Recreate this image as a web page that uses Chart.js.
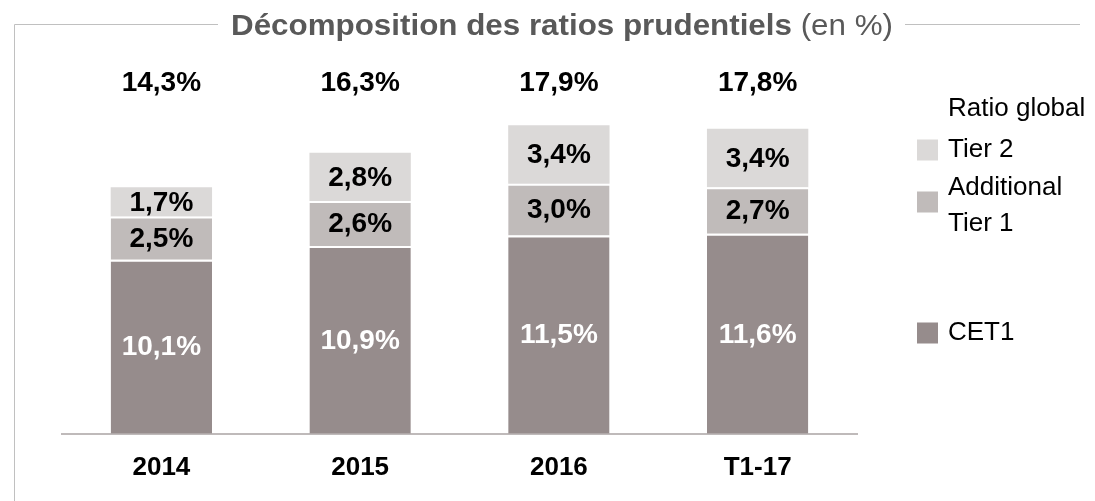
<!DOCTYPE html>
<html>
<head>
<meta charset="utf-8">
<script src="https://cdn.jsdelivr.net/npm/chart.js@4"></script>
<style>
  html, body { margin: 0; padding: 0; background: #fff; }
  canvas { display: block; }
</style>
</head>
<body>
<canvas id="ratioChart" width="1095" height="501"></canvas>
<script>
const categories = ['2014', '2015', '2016', 'T1-17'];
const cet1 = [10.1, 10.9, 11.5, 11.6];
const at1 = [2.5, 2.6, 3.0, 2.7];
const tier2 = [1.7, 2.8, 3.4, 3.4];
const totals = [14.3, 16.3, 17.9, 17.8];

const FONT = "'Liberation Sans', Arial, sans-serif";
const fmt = v => v.toFixed(1).replace('.', ',') + '%';

// titre + cadre
const framePlugin = {
    id: 'frame',
    afterDraw(chart) {
        const c = chart.ctx;
        const bold = "Décomposition des ratios prudentiels";
        const norm = " (en %)";
        c.save();
        c.font = 'bold 29px ' + FONT;
        const w1 = c.measureText(bold).width;
        c.font = '29px ' + FONT;
        const w2 = c.measureText(norm).width;
        const sx = 662 / (w1 + w2);
        const x0 = 231;
        c.fillStyle = '#595959';
        c.textBaseline = 'alphabetic';
        c.textAlign = 'left';
        c.save();
        c.translate(x0, 35);
        c.scale(sx, 1);
        c.font = 'bold 29px ' + FONT;
        c.fillText(bold, 0, 0);
        c.font = '29px ' + FONT;
        c.fillText(norm, w1, 0);
        c.restore();

        c.strokeStyle = '#c0c0c0';
        c.lineWidth = 1;
        c.beginPath();
        c.moveTo(14.5, 501);
        c.lineTo(14.5, 24.5);
        c.lineTo(218, 24.5);
        c.moveTo(905, 24.5);
        c.lineTo(1080, 24.5);
        c.stroke();
        c.restore();
    }
};

// valeurs dans les barres + totaux
const labelPlugin = {
    id: 'labels',
    afterDatasetsDraw(chart) {
        const c = chart.ctx;
        c.save();
        c.textAlign = 'center';
        c.textBaseline = 'middle';
        c.font = 'bold 28px ' + FONT;
        chart.data.datasets.forEach((ds, i) => {
            const meta = chart.getDatasetMeta(i);
            meta.data.forEach((bar, j) => {
                c.fillStyle = i === 0 ? '#ffffff' : '#000000';
                c.fillText(fmt(ds.data[j]), bar.x, (bar.y + bar.base) / 2 + 1);
            });
        });
        const meta0 = chart.getDatasetMeta(0);
        c.fillStyle = '#000000';
        totals.forEach((t, j) => {
            c.fillText(fmt(t), meta0.data[j].x, 83);
        });
        c.restore();
    }
};

// légende à droite
const legendPlugin = {
    id: 'sideLegend',
    afterDraw(chart) {
        const c = chart.ctx;
        const ds = chart.data.datasets;
        c.save();
        c.font = '26px ' + FONT;
        c.textBaseline = 'middle';
        c.textAlign = 'left';
        c.fillStyle = '#000000';
        c.fillText('Ratio global', 948, 109);
        const items = [
            { d: ds[2], box: 150, lines: [['Tier 2', 150]] },
            { d: ds[1], box: 202, lines: [['Additional', 188], ['Tier 1', 224]] },
            { d: ds[0], box: 333, lines: [['CET1', 333]] }
        ];
        items.forEach(it => {
            c.fillStyle = it.d.backgroundColor;
            c.fillRect(917, it.box - 10.5, 21, 21);
            c.fillStyle = '#000000';
            it.lines.forEach(l => c.fillText(l[0], 948, l[1]));
        });
        c.restore();
    }
};

new Chart(document.getElementById('ratioChart').getContext('2d'), {
    type: 'bar',
    data: {
        labels: categories,
        datasets: [
            { label: 'CET1', data: cet1, backgroundColor: '#968c8c', borderColor: '#ffffff',
              borderWidth: { top: 2, left: 0, right: 0, bottom: 0 }, borderSkipped: false },
            { label: 'Additional Tier 1', data: at1, backgroundColor: '#c0bbba', borderColor: '#ffffff',
              borderWidth: { top: 2, left: 0, right: 0, bottom: 0 }, borderSkipped: false },
            { label: 'Tier 2', data: tier2, backgroundColor: '#dbd9d8', borderWidth: 0 }
        ]
    },
    options: {
        responsive: false,
        animation: false,
        categoryPercentage: 1,
        barPercentage: 0.51,
        layout: { padding: { left: 62, right: 238, top: 89, bottom: 0 } },
        plugins: {
            legend: { display: false },
            tooltip: { enabled: false }
        },
        scales: {
            x: {
                stacked: true,
                grid: { display: false, drawTicks: false },
                border: { display: true, color: '#bfbaba', width: 2 },
                ticks: { color: '#000000', padding: 18, font: { family: FONT, size: 26, weight: 'bold' } }
            },
            y: {
                stacked: true,
                display: false,
                min: 0,
                max: 20
            }
        }
    },
    plugins: [framePlugin, labelPlugin, legendPlugin]
});
</script>
</body>
</html>
